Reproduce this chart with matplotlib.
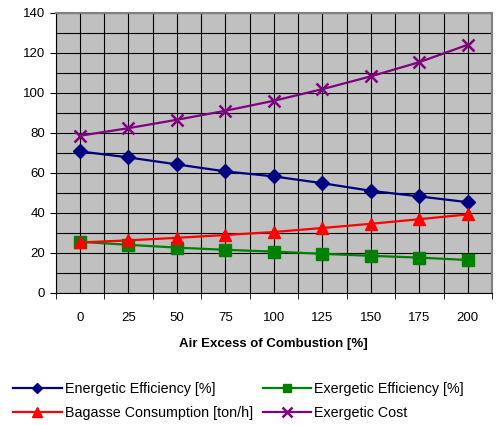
import matplotlib
matplotlib.use('Agg')
import matplotlib.pyplot as plt
import numpy as np

plt.rcParams['font.family'] = ['Liberation Sans', 'DejaVu Sans']

air_excess = ["0", "25", "50", "75", "100", "125", "150", "175", "200"]
energetic_eff = [70.7, 67.7, 64.2, 60.7, 58.2, 54.8, 51.0, 48.2, 45.3]
exergetic_eff = [25.5, 24.0, 22.6, 21.5, 20.6, 19.5, 18.5, 17.6, 16.4]
bagasse = [25.2, 26.2, 27.5, 28.9, 30.4, 32.4, 34.5, 36.8, 39.2]
exergetic_cost = [78.5, 82.3, 86.5, 91.0, 96.0, 101.8, 108.2, 115.3, 124.0]

x = np.arange(len(air_excess))

fig = plt.figure(figsize=(4.96, 4.25), dpi=100)
ax = fig.add_axes([0.112, 0.311, 0.88, 0.659])
ax.set_facecolor("#C0C0C0")

l1, = ax.plot(x, energetic_eff, color="#000080", marker="D", markersize=7, lw=1.6,
              label="Energetic Efficiency [%]")
l2, = ax.plot(x, exergetic_eff, color="#008000", marker="s", markersize=8, lw=1.6,
              label="Exergetic Efficiency [%]")
l3, = ax.plot(x, bagasse, color="#FF0000", marker="^", markersize=9, lw=1.6,
              label="Bagasse Consumption [ton/h]")
l4, = ax.plot(x, exergetic_cost, color="#800080", marker="x", markersize=9, mew=1.8, lw=1.6,
              label="Exergetic Cost")

ax.set_xlim(-0.5, len(x) - 0.5)
ax.set_ylim(0, 140)
ax.set_xticks(x)
ax.set_xticklabels(air_excess)
ax.set_xticks(np.arange(-0.5, len(x), 1.0), minor=True)
ax.tick_params(axis="x", which="major", length=0, pad=14, labelsize=9.5)
ax.tick_params(axis="x", which="minor", length=4, direction="out")
ax.set_yticks(np.arange(0, 141, 20))
ax.set_yticks(np.arange(0, 141, 10), minor=True)
ax.tick_params(axis="y", which="major", length=4, direction="out", labelsize=9.5)
ax.tick_params(axis="y", which="minor", length=0)

ax.grid(True, which="both", color="black", lw=0.8)
ax.set_axisbelow(True)
for s in ["top", "right"]:
    ax.spines[s].set_color("#808080")
    ax.spines[s].set_linewidth(1.5)

ax.set_xlabel("Air Excess of Combustion [%]", fontsize=9.5, fontweight="bold", labelpad=10)

fig.legend(handles=[l1, l3, l2, l4], loc="upper left", bbox_to_anchor=(0.015, 0.115),
           ncol=2, frameon=False, fontsize=10.3, handlelength=3.4, handletextpad=0.2,
           columnspacing=0.7, labelspacing=0.7, borderaxespad=0, markerscale=0.8)

fig.savefig("out.png", dpi=100, facecolor="white")
